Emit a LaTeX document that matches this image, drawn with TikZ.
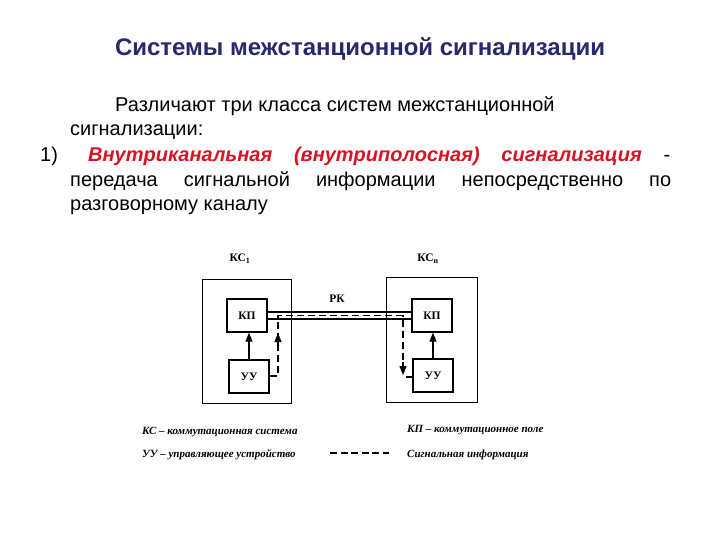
\documentclass[tikz,border=0pt]{standalone}
\usepackage{fontspec}
\setmainfont{Liberation Sans}
\newfontfamily\serifrm{Liberation Serif}
\usetikzlibrary{arrows.meta}
\definecolor{titleblue}{RGB}{40,40,110}
\definecolor{redtext}{RGB}{215,20,35}
\tikzset{
  txt/.style={anchor=base west, inner sep=0pt, font=\fontsize{20}{23}\selectfont},
  outerbox/.style={draw, line width=1pt, inner sep=0pt},
  unitbox/.style={draw, line width=1.3pt, inner sep=0pt, minimum width=40pt, minimum height=33pt,
    font=\serifrm\bfseries\fontsize{11.5}{13}\selectfont},
  lbl/.style={inner sep=0pt, font=\serifrm\bfseries\fontsize{11.5}{13}\selectfont},
  legend/.style={anchor=base west, inner sep=0pt, font=\serifrm\bfseries\itshape\fontsize{11}{12}\selectfont},
  chan/.style={line width=1.2pt},
  sig/.style={line width=1.2pt, dash pattern=on 7pt off 4pt},
  ctrl/.style={line width=1.3pt, -{Triangle[width=7pt,length=9pt]}},
  tip/.style={line width=1.2pt, -{Triangle[width=7pt,length=9pt]}}
}
\begin{document}
\begin{tikzpicture}[x=1pt,y=-1pt]
\useasboundingbox (0,0) rectangle (720,540);

% title and text
\node[anchor=base, inner sep=0pt, font=\fontsize{24}{28}\selectfont\bfseries, text=titleblue] (title) at (360,56) {Системы межстанционной сигнализации};
\node[txt] (l1) at (115,112) {Различают три класса систем межстанционной};
\node[txt] (l2) at (70,136) {сигнализации:};
\node[txt] (n1) at (40,162) {1)};
\node[txt] (l3) at (88,162) {\makebox[582pt][s]{{\color{redtext}\bfseries\itshape Внутриканальная} {\color{redtext}\bfseries\itshape (внутриполосная)} {\color{redtext}\bfseries\itshape сигнализация} -}};
\node[txt] (l4) at (70,187) {\makebox[601pt][s]{передача сигнальной информации непосредственно по}};
\node[txt] (l5) at (70,211) {разговорному каналу};

% stations
\node[outerbox, minimum width=89pt, minimum height=124pt] (ks1) at (246.5,341) {};
\node[outerbox, minimum width=91pt, minimum height=125pt] (ksn) at (431.5,339.5) {};
\node[unitbox] (kp1) at (247,315.5) {КП};
\node[unitbox] (uu1) at (249,376.5) {УУ};
\node[unitbox] (kp2) at (432,315.5) {КП};
\node[unitbox] (uu2) at (433,375.5) {УУ};

\node[lbl] (lks1) at (240,259) {КС\textsubscript{1}};
\node[lbl] (lksn) at (428,259) {КС\textsubscript{n}};
\node[lbl] (lrk) at (337,299) {РК};

% speech channel
\draw[chan] ([yshift=3.5pt]kp1.east) -- ([yshift=3.5pt]kp2.west);
\draw[chan] ([yshift=-3.5pt]kp1.east) -- ([yshift=-3.5pt]kp2.west);

% control arrows
\draw[ctrl] (uu1.north) -- (uu1.north |- kp1.south);
\draw[ctrl] (uu2.north) -- (uu2.north |- kp2.south);

% signalling path
\coordinate (a1) at (278,376);
\coordinate (a2) at (278,315.5);
\coordinate (a3) at (403,315.5);
\coordinate (a4) at (403,372);
\coordinate (a5) at (406,377);
\draw[sig] (uu1.east |- a1) -- (a1) -- (a2) -- (a3) -- (a4);
\draw[line width=1.2pt] (a5) -- (uu2.west |- a5);
\coordinate (t1s) at (278,346);
\coordinate (t1e) at (278,333);
\draw[tip] (t1s) -- (t1e);
\coordinate (t2s) at (403,362);
\coordinate (t2e) at (403,375);
\draw[tip] (t2s) -- (t2e);

% legend
\node[legend] (g1) at (142,434) {КС – коммутационная система};
\node[legend] (g2) at (142,457) {УУ – управляющее устройство};
\node[legend] (g3) at (407,432) {КП – коммутационное поле};
\node[legend] (g4) at (407,457) {Сигнальная информация};
\coordinate (d1) at (330,453);
\coordinate (d2) at (389,453);
\draw[line width=1.2pt, dash pattern=on 7pt off 3.5pt] (d1) -- (d2);
\end{tikzpicture}
\end{document}
